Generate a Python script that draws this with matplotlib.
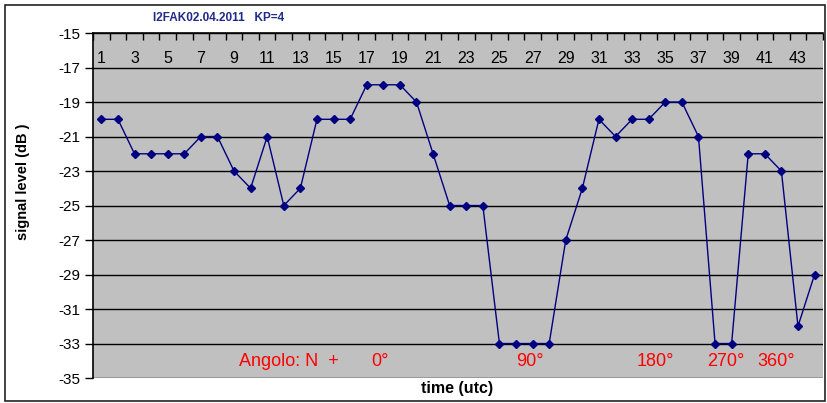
import matplotlib
matplotlib.use("Agg")
import matplotlib.pyplot as plt
from matplotlib.patches import Rectangle

plt.rcParams['font.family'] = ['Liberation Sans', 'DejaVu Sans']

hours = list(range(1, 45))
signal = [-20, -20, -22, -22, -22, -22, -21, -21, -23, -24,
          -21, -25, -24, -20, -20, -20, -18, -18, -18, -19,
          -22, -25, -25, -25, -33, -33, -33, -33, -27, -24,
          -20, -21, -20, -20, -19, -19, -21, -33, -33, -22,
          -22, -23, -32, -29]
x_tick_labels = [str(v) for v in range(1, 44, 2)]
y_ticks = list(range(-35, -14, 2))
angle_labels = ["Angolo: N  +", "0°", "90°", "180°", "270°", "360°"]
angle_x = [9.3, 17.26, 26.84, 34.38, 38.66, 41.67]
angle_ha = ['left', 'left', 'center', 'center', 'center', 'center']
angle_y = -34.07

fig = plt.figure(figsize=(8.27, 4.03), dpi=100)
fig.patches.append(Rectangle((0.006, 0.004), 0.992, 0.984, transform=fig.transFigure,
                             fill=False, edgecolor='#222222', linewidth=1.2))
ax = fig.add_axes([0.1125, 0.062, 0.8825, 0.856])
ax.set_facecolor('#c0c0c0')

ax.plot(hours, signal, color='#000080', linewidth=1.0, marker='D', markersize=4,
        markerfacecolor='#000080', markeredgecolor='#000080')

ax.set_xlim(0.5, 44.5)
ax.set_ylim(-35, -15)
ax.set_yticks(y_ticks)
ax.set_yticklabels([str(v) for v in y_ticks], fontsize=11)
ax.yaxis.grid(True, color='black', linewidth=1.0)
ax.set_axisbelow(True)
ax.tick_params(axis='y', direction='out', length=6, width=1, pad=3)

ax.xaxis.set_ticks_position('top')
ax.set_xticks(list(range(1, 44, 2)))
ax.set_xticklabels(x_tick_labels, fontsize=11.5)
ax.set_xticks([v + 0.5 for v in range(0, 45)], minor=True)
ax.tick_params(axis='x', which='major', length=0, pad=-24, labeltop=True, labelbottom=False)
ax.tick_params(axis='x', which='minor', direction='in', length=5, width=1, top=True, bottom=False)

for sp in ['top', 'left']:
    ax.spines[sp].set_linewidth(1.2)
ax.spines['right'].set_visible(False)
ax.spines['bottom'].set_visible(False)

for txt, px, ha in zip(angle_labels, angle_x, angle_ha):
    ax.text(px, angle_y, txt, color='#ff0000', fontsize=13, ha=ha, va='center')

fig.text(23 / 827, 1 - 182 / 403, 'signal level (dB )', fontsize=10.5, fontweight='bold',
         rotation=90, ha='center', va='center')
fig.text(457 / 827, 1 - 389 / 403, 'time (utc)', fontsize=11.5, fontweight='bold',
         ha='center', va='center')
fig.text(219 / 827, 1 - 18 / 403, 'I2FAK02.04.2011   KP=4', fontsize=8.5, fontweight='bold',
         color='#1f2a8a', ha='center', va='center')

fig.savefig('out.png', dpi=100)
